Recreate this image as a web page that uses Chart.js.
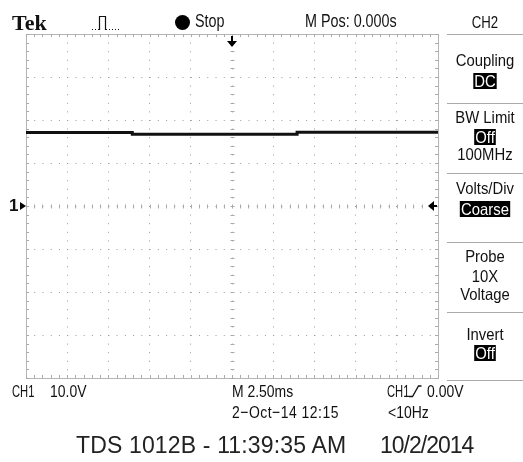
<!DOCTYPE html>
<html><head><meta charset="utf-8">
<script src="https://cdn.jsdelivr.net/npm/chart.js@4.4.1/dist/chart.umd.min.js"></script>
<style>
html,body{margin:0;padding:0;background:#fff;}
#wrap{position:relative;width:523px;height:462px;overflow:hidden;}
canvas{position:absolute;left:0;top:0;}
.t{position:absolute;white-space:pre;line-height:1;color:#111;font-family:"Liberation Sans",Arial,sans-serif;font-size:17px;transform:scaleX(0.82);transform-origin:0 0;}
.c{text-align:center;width:90px;left:440px;font-size:16.5px;transform:scaleX(0.9);transform-origin:50% 0;}
.inv{display:inline-block;background:#000;color:#fff;line-height:16px;height:16px;padding:0 1px;}
.sep{position:absolute;left:447px;width:76px;height:1px;background:#aaa;}
.f{transform:none;font-size:23px;color:#222;}
.ch{transform:scaleX(0.66);}
</style></head>
<body>
<div id="wrap">
<canvas id="scope" width="523" height="462"></canvas>

<div class="t" style="left:12px;top:11.8px;font-family:'Liberation Serif',serif;font-weight:bold;font-size:22px;transform:none;">Tek</div>
<svg style="position:absolute;left:90px;top:14px" width="34" height="17">
  <path d="M2 15.5h1M5 15.5h1M8 15.5h1.5V2.5h6v13h1.5M19 15.5h1M22 15.5h1M25 15.5h1M28 15.5h1" stroke="#111" stroke-width="1.2" fill="none"/>
</svg>
<div style="position:absolute;left:175px;top:14.5px;width:15px;height:15px;border-radius:50%;background:#000;"></div>
<div class="t" style="left:195px;top:13.2px;font-size:17.5px;">Stop</div>
<div class="t" style="left:305px;top:13.2px;font-size:17.5px;">M Pos: 0.000s</div>

<div class="t c" style="top:14px;font-size:16.5px;transform:scaleX(0.8);">CH2</div>
<div class="sep" style="top:34px"></div>
<div class="t c" style="top:51.5px;">Coupling</div>
<div class="t c" style="top:72.5px;"><span class="inv">DC</span></div>
<div class="sep" style="top:103px"></div>
<div class="t c" style="top:109.3px;">BW Limit</div>
<div class="t c" style="top:129px;"><span class="inv">Off</span></div>
<div class="t c" style="top:146px;">100MHz</div>
<div class="sep" style="top:173px"></div>
<div class="t c" style="top:180px;">Volts/Div</div>
<div class="t c" style="top:200.5px;"><span class="inv">Coarse</span></div>
<div class="sep" style="top:242px"></div>
<div class="t c" style="top:247.7px;">Probe</div>
<div class="t c" style="top:267.7px;">10X</div>
<div class="t c" style="top:286px;">Voltage</div>
<div class="sep" style="top:312px"></div>
<div class="t c" style="top:326px;">Invert</div>
<div class="t c" style="top:344.5px;"><span class="inv">Off</span></div>
<div class="sep" style="top:380px"></div>

<div class="t" style="left:9px;top:196.5px;font-size:17px;font-weight:bold;transform:none;">1</div>

<div class="t ch" style="left:12px;top:382.6px;">CH1</div>
<div class="t" style="left:50px;top:382.6px;">10.0V</div>
<div class="t" style="left:232px;top:382.6px;">M 2.50ms</div>
<div class="t" style="left:232px;top:403.6px;letter-spacing:0.6px;">2−Oct−14 12:15</div>
<div class="t ch" style="left:387px;top:382.6px;">CH1</div>
<svg style="position:absolute;left:407px;top:384px" width="20" height="16">
  <path d="M2 12.5h3.5l6-10.5h3" stroke="#111" stroke-width="1.3" fill="none"/>
</svg>
<div class="t" style="left:427px;top:382.6px;">0.00V</div>
<div class="t" style="left:388px;top:403.6px;">&lt;10Hz</div>

<div class="t f" style="left:76px;top:433.5px;letter-spacing:0.15px;">TDS 1012B - 11:39:35 AM</div>
<div class="t f" style="left:380px;top:433.5px;letter-spacing:-1px;">10/2/2014</div>
</div>

<script>
const timeMs   = [-12.5, -6.05, -6.05, 3.95, 3.95, 12.5];   // ms
const ch1Volts = [17.1,  17.1,  16.7,  16.7, 17.15, 17.15];  // V
const timePerDiv  = 2.5;   // ms/div
const voltsPerDiv = 10;    // V/div
const hDivs = 10;
const vDivs = 8;
const triggerTime  = 0;    // ms (M Pos 0.000s)
const triggerLevel = 0;    // V
const ch1Ground    = 0;    // V

const xMin = -timePerDiv * hDivs / 2, xMax = timePerDiv * hDivs / 2;
const yMin = -voltsPerDiv * vDivs / 2, yMax = voltsPerDiv * vDivs / 2;

const scopeDecor = {
  id: 'scopeDecor',
  beforeDatasetsDraw(chart) {
    const {ctx, chartArea: a, scales: {x, y}} = chart;
    ctx.save();
    ctx.strokeStyle = '#b5b5b5';
    ctx.lineWidth = 1;
    ctx.strokeRect(Math.round(a.left) + 0.5, Math.round(a.top) + 0.5,
                   Math.round(a.right) - Math.round(a.left), Math.round(a.bottom) - Math.round(a.top));
    const x0 = Math.round(x.getPixelForValue(triggerTime)) + 0.5;
    const y0 = Math.round(y.getPixelForValue(0)) + 0.5;
    ctx.strokeStyle = '#aaa';
    ctx.beginPath();
    for (let v = xMin; v <= xMax + 1e-9; v += timePerDiv / 5) {
      const px = Math.round(x.getPixelForValue(v)) + 0.5;
      ctx.moveTo(px, a.top); ctx.lineTo(px, a.top + 3);
      ctx.moveTo(px, a.bottom); ctx.lineTo(px, a.bottom - 3);
      ctx.moveTo(px, y0 - 2); ctx.lineTo(px, y0 + 2);
    }
    for (let v = yMin; v <= yMax + 1e-9; v += voltsPerDiv / 5) {
      const py = Math.round(y.getPixelForValue(v)) + 0.5;
      ctx.moveTo(a.left, py); ctx.lineTo(a.left + 3, py);
      ctx.moveTo(a.right, py); ctx.lineTo(a.right - 3, py);
      ctx.moveTo(x0 - 2, py); ctx.lineTo(x0 + 2, py);
    }
    ctx.stroke();
    ctx.restore();
  },
  afterDatasetsDraw(chart) {
    const {ctx, chartArea: a, scales: {x, y}} = chart;
    ctx.save();
    ctx.fillStyle = '#000';
    ctx.strokeStyle = '#000';
    const yg = y.getPixelForValue(ch1Ground);
    ctx.beginPath();
    ctx.moveTo(a.left, yg); ctx.lineTo(a.left - 6, yg - 4); ctx.lineTo(a.left - 6, yg + 4); ctx.closePath();
    ctx.fill();
    const yt = y.getPixelForValue(triggerLevel);
    ctx.beginPath();
    ctx.moveTo(a.right - 10, yt); ctx.lineTo(a.right - 4, yt - 5); ctx.lineTo(a.right - 4, yt + 5); ctx.closePath();
    ctx.fill();
    ctx.lineWidth = 2;
    ctx.beginPath(); ctx.moveTo(a.right - 5, yt); ctx.lineTo(a.right - 1, yt); ctx.stroke();
    const xt = x.getPixelForValue(triggerTime);
    ctx.beginPath(); ctx.moveTo(xt, a.top + 2); ctx.lineTo(xt, a.top + 8); ctx.stroke();
    ctx.beginPath();
    ctx.moveTo(xt - 5, a.top + 7); ctx.lineTo(xt + 5, a.top + 7); ctx.lineTo(xt, a.top + 13); ctx.closePath();
    ctx.fill();
    ctx.restore();
  }
};

new Chart(document.getElementById('scope'), {
  type: 'line',
  data: {
    datasets: [{
      label: 'CH1',
      data: timeMs.map((t, i) => ({x: t, y: ch1Volts[i]})),
      borderColor: '#111',
      borderWidth: 3,
      pointRadius: 0,
      tension: 0,
      fill: false
    }]
  },
  options: {
    responsive: false,
    animation: false,
    devicePixelRatio: 1,
    layout: {padding: {left: 26, top: 34, right: 85, bottom: 84}},
    plugins: {legend: {display: false}, tooltip: {enabled: false}},
    scales: {
      x: {
        type: 'linear', min: xMin, max: xMax,
        ticks: {display: false, stepSize: timePerDiv},
        grid: {color: '#9a9a9a', lineWidth: 1, drawTicks: false},
        border: {display: false, dash: [1, 7.6]}
      },
      y: {
        type: 'linear', min: yMin, max: yMax,
        ticks: {display: false, stepSize: voltsPerDiv},
        grid: {color: '#9a9a9a', lineWidth: 1, drawTicks: false},
        border: {display: false, dash: [1, 7.24]}
      }
    }
  },
  plugins: [scopeDecor]
});
</script>
</body></html>
